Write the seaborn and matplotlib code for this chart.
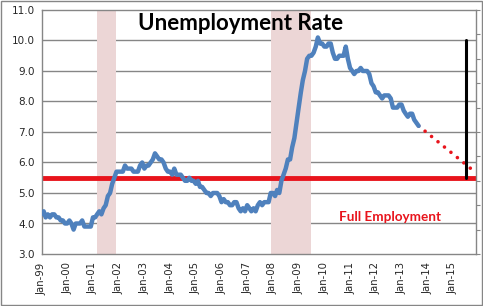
import numpy as np
import pandas as pd
import matplotlib
matplotlib.use("Agg")
import matplotlib.pyplot as plt
import matplotlib.dates as mdates
from matplotlib.patches import Rectangle
import seaborn as sns

# ---- data ----
start_month = "1999-01-01"
rate_1999 = [4.3, 4.4, 4.2, 4.3, 4.2, 4.3, 4.3, 4.2, 4.2, 4.1, 4.1, 4.0]
rate_2000 = [4.0, 4.1, 4.0, 3.8, 4.0, 4.0, 4.0, 4.1, 3.9, 3.9, 3.9, 3.9]
rate_2001 = [4.2, 4.2, 4.3, 4.4, 4.3, 4.5, 4.6, 4.9, 5.0, 5.3, 5.5, 5.7]
rate_2002 = [5.7, 5.7, 5.7, 5.9, 5.8, 5.8, 5.8, 5.7, 5.7, 5.7, 5.9, 6.0]
rate_2003 = [5.8, 5.9, 5.9, 6.0, 6.1, 6.3, 6.2, 6.1, 6.1, 6.0, 5.8, 5.7]
rate_2004 = [5.7, 5.6, 5.8, 5.6, 5.6, 5.6, 5.5, 5.4, 5.4, 5.5, 5.4, 5.4]
rate_2005 = [5.3, 5.4, 5.2, 5.2, 5.1, 5.0, 5.0, 4.9, 5.0, 5.0, 5.0, 4.9]
rate_2006 = [4.7, 4.8, 4.7, 4.7, 4.6, 4.6, 4.7, 4.7, 4.5, 4.4, 4.5, 4.4]
rate_2007 = [4.6, 4.5, 4.4, 4.5, 4.4, 4.6, 4.7, 4.6, 4.7, 4.7, 4.7, 5.0]
rate_2008 = [5.0, 4.9, 5.1, 5.0, 5.4, 5.6, 5.8, 6.1, 6.1, 6.5, 6.8, 7.3]
rate_2009 = [7.8, 8.3, 8.7, 9.0, 9.4, 9.5, 9.5, 9.6, 9.8, 10.1, 9.9, 9.9]
rate_2010 = [9.8, 9.8, 9.9, 9.9, 9.6, 9.4, 9.4, 9.5, 9.5, 9.5, 9.8, 9.4]
rate_2011 = [9.1, 9.0, 8.9, 9.0, 9.0, 9.1, 9.0, 9.0, 9.0, 8.9, 8.6, 8.5]
rate_2012 = [8.3, 8.3, 8.2, 8.1, 8.2, 8.2, 8.2, 8.1, 7.8, 7.8, 7.8, 7.9]
rate_2013 = [7.9, 7.7, 7.6, 7.5, 7.6, 7.6, 7.4, 7.3, 7.2]

projection_dates = ["2013-09-01", "2015-12-01"]
projection_values = [7.2, 5.65]

full_employment = 5.5
recessions = [("2001-03-01", "2001-12-01"), ("2007-12-01", "2009-07-01")]
target_date = "2015-07-01"
target_range = [5.5, 10.0]

tick_years = list(range(1999, 2016))
y_ticks = [3.0, 4.0, 5.0, 6.0, 7.0, 8.0, 9.0, 10.0, 11.0]

# ---- build frame ----
rates = (rate_1999 + rate_2000 + rate_2001 + rate_2002 + rate_2003 + rate_2004 +
         rate_2005 + rate_2006 + rate_2007 + rate_2008 + rate_2009 + rate_2010 +
         rate_2011 + rate_2012 + rate_2013)
dates = pd.date_range(start_month, periods=len(rates), freq="MS")
df = pd.DataFrame({"date": dates, "rate": rates})
proj = pd.DataFrame({"date": pd.to_datetime(projection_dates), "rate": projection_values})

sns.set_style("white")
plt.rcParams["font.family"] = ["DejaVu Sans"]

fig = plt.figure(figsize=(4.83, 3.06), dpi=100)
ax = fig.add_axes([41.5 / 483, 52 / 306, (476 - 41.5) / 483, (254 - 10) / 306])

grid_c = "#868686"
for yv in y_ticks[1:-1]:
    ax.axhline(yv, color=grid_c, lw=1.0, zorder=0)

for s, e in recessions:
    ax.axvspan(pd.Timestamp(s), pd.Timestamp(e), color="#ecd6d6", lw=0, zorder=1)

ax.axhline(full_employment, color="#e8141c", lw=3.5, zorder=2)

sns.lineplot(data=df, x="date", y="rate", ax=ax, color="#4f81bd", lw=3.2,
             zorder=4, solid_joinstyle="round")
sns.lineplot(data=proj, x="date", y="rate", ax=ax, color="#e8141c", lw=2.6, zorder=3)
pl = ax.lines[-1]
pl.set_dashes([0.01, 2.3])
pl.set_dash_capstyle("round")

ax.plot([pd.Timestamp(target_date)] * 2, target_range, color="black", lw=2.2, zorder=5)

ax.set_xlim(pd.Timestamp("1999-01-01"), pd.Timestamp("2015-11-25"))
ax.set_ylim(3.0, 11.0)
ax.set_yticks(y_ticks)
ax.set_yticklabels([f"{v:.1f}" for v in y_ticks], fontsize=7.5)
ticks = [pd.Timestamp(f"{y}-01-01") for y in tick_years]
ax.set_xticks(ticks)
ax.set_xticklabels([f"Jan-{str(y)[2:]}" for y in tick_years], rotation=90, fontsize=7.3)
ax.tick_params(axis="both", length=0, pad=5)
ax.tick_params(axis="x", pad=6)
ax.set_xlabel("")
ax.set_ylabel("")
for sp in ax.spines.values():
    sp.set_color(grid_c)
    sp.set_linewidth(1.0)

ax2 = ax.twinx()
ax2.set_ylim(0, 10)
ax2.set_yticks(range(0, 11))
ax2.set_yticklabels([])
ax2.tick_params(axis="y", length=3, color=grid_c, width=0.8)
for sp in ax2.spines.values():
    sp.set_visible(False)

ax.text(0.457, 0.943, "Unemployment Rate", transform=ax.transAxes, ha="center", va="center",
        fontsize=16, fontweight="bold", family=["Lato", "DejaVu Sans"], color="black", zorder=6)
ax.text(pd.Timestamp("2012-07-15"), 4.22, "Full Employment", ha="center", va="center",
        fontsize=9.7, fontweight="bold", family=["Lato", "DejaVu Sans"], color="#e8141c", zorder=6)

fig.patches.append(Rectangle((1 / 483, 1 / 306), 481 / 483, 304 / 306, transform=fig.transFigure,
                             fill=False, edgecolor=grid_c, lw=1.0))

fig.savefig("out.png", dpi=100)
